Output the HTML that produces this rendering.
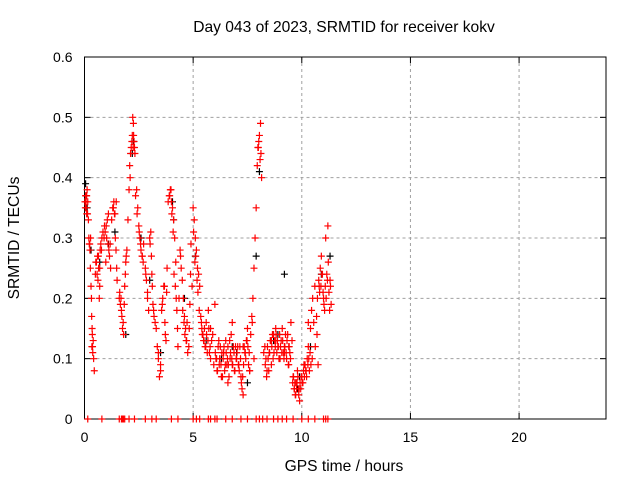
<!DOCTYPE html>
<html><head><meta charset="utf-8"><style>
body{margin:0;background:#fff}
svg{display:block;font-family:"Liberation Sans",sans-serif}
</style></head><body>
<svg id="chart" width="640" height="480" viewBox="0 0 640 480">
<rect width="640" height="480" fill="#fff"/>
<g id="grid"></g><g id="axes"></g><g id="marks"></g>
<text x="344" y="32" font-size="15.6" text-anchor="middle">Day 043 of 2023, SRMTID for receiver kokv</text>
<text x="344" y="471" font-size="15.6" text-anchor="middle">GPS time / hours</text>
<text transform="translate(19,238) rotate(-90)" font-size="15.6" text-anchor="middle">SRMTID / TECUs</text>
</svg>
<script>
const xTicks=[0,5,10,15,20];
const yTicks=[0,0.1,0.2,0.3,0.4,0.5,0.6];
const redTimes=[0.02,0.05,0.08,0.1,0.12,0.15,0.18,
0.2,0.22,0.25,0.27,0.3,0.32,0.35,0.37,0.38,0.4,0.42,0.45,0.33,
0.5,0.55,0.6,0.65,0.7,0.72,0.75,0.8,0.62,0.68,
0.9,0.95,1.0,1.05,1.1,1.12,1.15,1.18,1.2,0.98,
1.3,1.35,1.4,1.42,1.45,1.48,1.5,
1.6,1.65,1.7,1.72,1.75,1.8,1.85,1.88,1.9,1.92,1.95,
2.0,2.05,2.1,2.15,2.2,2.22,2.25,2.28,2.3,2.32,
2.4,2.45,2.5,2.55,2.6,2.65,2.7,2.72,
2.8,2.85,2.9,2.95,3.0,3.05,3.1,3.12,3.15,3.2,
3.3,3.35,3.4,3.45,3.5,3.55,3.6,3.65,3.7,3.72,3.75,3.78,3.8,
3.9,3.95,4.0,4.05,4.1,4.15,4.2,4.22,4.25,4.28,4.3,
4.4,4.45,4.5,4.55,4.6,4.65,4.7,4.75,4.8,4.85,4.88,4.9,
5.0,5.05,5.1,5.15,5.2,5.25,5.3,
5.35,5.4,5.45,5.5,5.55,5.6,5.7,5.75,5.8,5.9,6.0,
6.05,6.1,6.2,6.25,6.3,6.4,6.5,6.55,6.6,6.7,6.75,6.8,6.9,6.95,
7.0,7.05,7.1,7.2,7.25,7.3,7.4,7.45,7.5,7.6,
7.7,7.75,7.8,7.85,7.9,7.95,8.0,8.05,8.1,8.12,8.15,
8.3,8.35,8.4,8.5,8.55,8.6,8.7,8.8,8.9,9.0,
9.05,9.1,9.15,9.2,9.3,9.35,9.4,9.5,9.55,
9.6,9.65,9.7,9.75,9.8,9.85,9.9,10.0,10.05,10.1,
10.2,10.25,10.3,10.4,10.45,10.5,10.6,10.7,10.75,
10.8,10.85,10.9,10.95,11.0,11.05,11.1,11.2,11.3,11.35,
6.4,6.8,7.3,7.8,8.6,9.2,9.7,10.3,5.8,6.6,7.6,8.8,9.4,10.0];
const redValues=[0.36,0.37,0.35,0.34,0.38,0.36,0.33,
0.30,0.29,0.28,0.25,0.22,0.20,0.15,0.12,0.11,0.13,0.10,0.08,0.17,
0.24,0.26,0.27,0.25,0.22,0.28,0.29,0.30,0.23,0.20,
0.30,0.31,0.32,0.33,0.34,0.28,0.27,0.29,0.25,0.26,
0.35,0.36,0.34,0.30,0.28,0.25,0.23,
0.20,0.19,0.18,0.17,0.15,0.14,0.22,0.24,0.26,0.27,0.28,
0.33,0.38,0.40,0.45,0.47,0.50,0.49,0.46,0.45,0.44,
0.38,0.35,0.32,0.30,0.28,0.27,0.26,0.29,
0.25,0.23,0.20,0.18,0.30,0.31,0.24,0.22,0.19,0.17,
0.15,0.12,0.10,0.07,0.08,0.18,0.20,0.22,0.16,0.14,0.13,0.21,0.25,
0.37,0.38,0.36,0.35,0.33,0.30,0.26,0.20,0.18,0.15,0.12,
0.28,0.25,0.23,0.20,0.17,0.15,0.13,0.11,0.12,0.19,0.24,0.29,
0.35,0.33,0.30,0.28,0.25,0.24,0.22,
0.17,0.15,0.14,0.13,0.12,0.16,0.18,0.11,0.10,0.14,0.19,
0.10,0.08,0.09,0.12,0.07,0.11,0.13,0.09,0.06,0.10,0.14,0.16,0.08,0.12,
0.10,0.12,0.09,0.07,0.05,0.04,0.11,0.13,0.15,0.08,
0.17,0.20,0.25,0.30,0.35,0.42,0.45,0.47,0.49,0.44,0.40,
0.12,0.10,0.08,0.11,0.13,0.09,0.14,0.15,0.12,0.10,
0.13,0.15,0.11,0.12,0.10,0.14,0.09,0.16,0.13,
0.07,0.05,0.04,0.06,0.08,0.05,0.03,0.07,0.06,0.09,
0.08,0.10,0.12,0.15,0.18,0.20,0.22,0.14,0.09,
0.22,0.25,0.27,0.24,0.20,0.18,0.30,0.32,0.23,0.19,
0.11,0.09,0.12,0.10,0.13,0.11,0.06,0.16,0.15,0.12,0.08,0.13,0.12,0.07];
const redTimes2=[0.04,0.07,0.1,0.14,0.24,0.28,0.34,0.36,0.52,0.58,0.64,0.7,0.78,0.85,0.92,1.02,1.08,1.25,1.33,1.38,1.46,
1.62,1.68,1.78,1.83,2.08,2.12,2.18,2.24,2.26,2.35,2.42,2.52,2.58,2.66,2.82,2.9,3.02,3.08,3.18,3.25,3.4,3.5,3.58,3.68,
3.85,3.92,3.98,4.02,4.08,4.12,4.18,4.35,4.42,4.52,4.58,4.62,4.68,4.72,4.82,4.95,5.02,5.08,5.12,5.18,5.22,5.28,
5.38,5.42,5.48,5.52,5.58,5.62,5.65,5.68,5.72,5.78,5.85,5.95,6.02,6.08,6.12,6.15,6.18,6.22,6.28,6.32,6.35,6.38,6.42,6.45,6.48,6.52,6.58,6.62,6.65,6.68,6.72,6.78,6.82,6.85,6.88,6.92,6.98,
7.02,7.08,7.12,7.15,7.18,7.22,7.28,7.32,7.35,7.38,7.42,7.48,7.52,7.55,7.58,7.65,7.72,7.98,8.02,8.08,
8.25,8.32,8.38,8.42,8.45,8.48,8.52,8.58,8.62,8.65,8.68,8.72,8.75,8.78,8.82,8.85,8.88,8.92,8.95,8.98,9.02,9.08,9.12,9.18,9.22,9.25,9.28,9.32,9.38,9.42,9.45,9.48,
9.58,9.62,9.66,9.68,9.72,9.76,9.78,9.82,9.86,9.88,9.92,9.95,9.98,10.02,10.08,10.12,10.15,10.18,10.22,10.28,10.32,10.35,10.38,10.42,10.48,10.55,10.62,10.68,
10.72,10.78,10.82,10.88,10.92,10.98,11.02,11.08,11.12,11.15,11.18,11.22,11.25,11.28,11.32];
const redValues2=[0.35,0.36,0.37,0.34,0.29,0.30,0.12,0.14,0.26,0.24,0.27,0.25,0.28,0.31,0.32,0.30,0.29,0.33,0.35,0.34,0.36,
0.21,0.20,0.16,0.19,0.42,0.44,0.46,0.45,0.47,0.37,0.34,0.31,0.29,0.27,0.24,0.21,0.29,0.27,0.18,0.16,0.11,0.09,0.19,0.22,
0.36,0.37,0.38,0.34,0.31,0.24,0.22,0.20,0.27,0.18,0.16,0.14,0.13,0.16,0.15,0.22,0.31,0.26,0.27,0.23,0.21,0.18,
0.16,0.14,0.13,0.15,0.12,0.14,0.11,0.13,0.15,0.12,0.13,0.09,0.11,0.10,0.08,0.12,0.13,0.10,0.09,0.11,0.07,0.10,0.12,0.08,0.09,0.11,0.10,0.09,0.07,0.13,0.11,0.10,0.09,0.12,0.11,0.08,0.10,
0.11,0.09,0.08,0.12,0.10,0.06,0.07,0.09,0.12,0.11,0.10,0.13,0.12,0.09,0.11,0.14,0.16,0.45,0.46,0.43,
0.11,0.09,0.07,0.12,0.10,0.08,0.11,0.13,0.12,0.14,0.10,0.11,0.13,0.12,0.14,0.11,0.13,0.12,0.10,0.14,0.12,0.11,0.13,0.10,0.12,0.14,0.11,0.13,0.09,0.12,0.11,0.10,
0.06,0.07,0.05,0.06,0.04,0.05,0.06,0.07,0.04,0.05,0.06,0.05,0.07,0.06,0.08,0.07,0.09,0.08,0.07,0.09,0.10,0.08,0.11,0.09,0.10,0.16,0.12,0.17,
0.20,0.23,0.21,0.22,0.24,0.21,0.19,0.22,0.20,0.24,0.23,0.26,0.21,0.18,0.22];
const blackTimes=[0.05,0.08,0.3,0.7,1.4,1.9,2.2,2.6,3.0,3.5,4.1,4.6,5.1,5.6,6.3,7.0,7.5,7.9,8.05,8.7,9.2,9.8,10.4,10.9,11.3,0.12,1.1,2.25,4.05,6.8,8.9,9.9];
const blackValues=[0.39,0.37,0.28,0.26,0.31,0.14,0.44,0.30,0.23,0.11,0.33,0.20,0.27,0.13,0.10,0.11,0.06,0.27,0.41,0.13,0.24,0.05,0.12,0.24,0.27,0.35,0.29,0.46,0.36,0.12,0.14,0.07];
const zeroTimes=[0.15,0.8,1.6,1.7,1.75,1.8,1.85,2.05,2.3,2.8,3.1,3.3,4.0,4.3,5.0,5.15,5.3,5.7,5.8,6.0,6.1,6.5,6.8,7.2,7.5,7.9,8.05,8.2,8.4,8.7,8.9,9.1,9.3,9.6,10.0,10.3,10.6,11.0,11.1,11.2];

const NS='http://www.w3.org/2000/svg';
const X0=84.5,X1=606,Y0=419,Y1=57;
const xs=t=>X0+t/24*(X1-X0);
const ys=v=>Y0-v/0.6*(Y0-Y1);
function mk(tag,attrs,parent){const e=document.createElementNS(NS,tag);for(const k in attrs)e.setAttribute(k,attrs[k]);parent.appendChild(e);return e;}
const grid=document.getElementById('grid'),axes=document.getElementById('axes'),marks=document.getElementById('marks');
xTicks.forEach(t=>{
  const x=xs(t);
  if(t>0){const g=mk('line',{x1:x,x2:x,y1:Y1,y2:Y0,stroke:'#a0a0a0','stroke-dasharray':'3,3'},grid);
  
  }
  mk('line',{x1:x,x2:x,y1:Y0,y2:Y0-6,stroke:'#000'},axes);
  mk('line',{x1:x,x2:x,y1:Y1,y2:Y1+6,stroke:'#000'},axes);
  const l=mk('text',{x:x,y:Y0+23,'font-size':14,'text-anchor':'middle'},axes);
  l.textContent=t;
  
  
});
yTicks.forEach(v=>{
  const y=ys(v);
  if(v>0&&v<0.6){const g=mk('line',{x1:X0,x2:X1,y1:y,y2:y,stroke:'#a0a0a0','stroke-dasharray':'3,3'},grid);
  
  }
  mk('line',{x1:X0,x2:X0+6,y1:y,y2:y,stroke:'#000'},axes);
  mk('line',{x1:X1,x2:X1-6,y1:y,y2:y,stroke:'#000'},axes);
  const l=mk('text',{x:X0-12,y:y+5,'font-size':14,'text-anchor':'end'},axes);
  l.textContent=v===0?'0':v.toFixed(1);
  
  
});
const fr=mk('rect',{x:X0,y:Y1,width:X1-X0,height:Y0-Y1,fill:'none',stroke:'#000'},axes);


function plus(t,v,c,name){
  const x=xs(t),y=ys(v);
  const p=mk('path',{d:`M${x-3.5},${y}h7M${x},${y-3.5}v7`,stroke:c,'stroke-width':1.2,fill:'none'},marks);
  
  
}
blackTimes.forEach((t,i)=>plus(t,blackValues[i],'#000','black-point'));
redTimes.forEach((t,i)=>plus(t,redValues[i],'#f00','red-point'));
redTimes2.forEach((t,i)=>plus(t,redValues2[i],'#f00','red-point'));
zeroTimes.forEach(t=>plus(t,0,'#f00','zero-point'));
</script>
</body></html>
